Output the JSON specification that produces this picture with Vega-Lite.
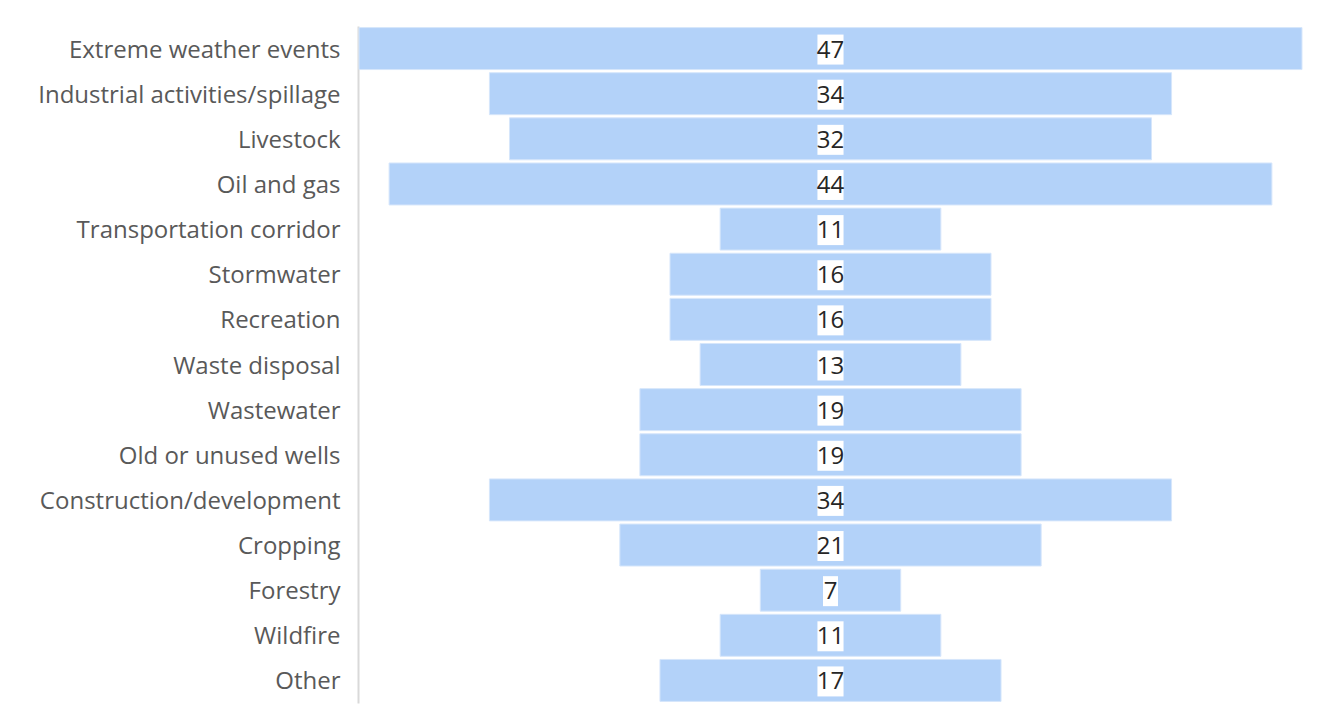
{
  "$schema": "https://vega.github.io/schema/vega-lite/v6.json",
  "autosize": "none",
  "width": 947,
  "height": 677,
  "padding": {"left": 358, "top": 26, "right": 13, "bottom": 9},
  "background": "white",
  "config": {
    "view": {"stroke": null},
    "font": "Open Sans"
  },
  "data": {
    "values": [
      {"category": "Extreme weather events", "value": 47},
      {"category": "Industrial activities/spillage", "value": 34},
      {"category": "Livestock", "value": 32},
      {"category": "Oil and gas", "value": 44},
      {"category": "Transportation corridor", "value": 11},
      {"category": "Stormwater", "value": 16},
      {"category": "Recreation", "value": 16},
      {"category": "Waste disposal", "value": 13},
      {"category": "Wastewater", "value": 19},
      {"category": "Old or unused wells", "value": 19},
      {"category": "Construction/development", "value": 34},
      {"category": "Cropping", "value": 21},
      {"category": "Forestry", "value": 7},
      {"category": "Wildfire", "value": 11},
      {"category": "Other", "value": 17}
    ]
  },
  "encoding": {
    "y": {
      "field": "category",
      "type": "nominal",
      "sort": null,
      "scale": {"paddingInner": 0.07, "paddingOuter": 0.035},
      "axis": {
        "title": null,
        "ticks": false,
        "labelFontSize": 24,
        "labelColor": "#595959",
        "labelPadding": 18,
        "labelOffset": 2,
        "labelLimit": 400,
        "labelFont": "Open Sans",
        "domainColor": "#d9d9d9",
        "domainWidth": 2
      }
    }
  },
  "layer": [
    {
      "mark": {"type": "bar", "color": "#b3d2f9", "stroke": "#d6e6fb", "strokeWidth": 1},
      "encoding": {
        "x": {
          "field": "value",
          "type": "quantitative",
          "stack": "center",
          "scale": {"domain": [-0.05, 47.15], "nice": false, "zero": false},
          "axis": null
        }
      }
    },
    {
      "mark": {"type": "point", "filled": true, "color": "white", "opacity": 1, "size": 900, "strokeWidth": 0, "yOffset": 1},
      "encoding": {
        "x": {"datum": 23.5, "type": "quantitative"},
        "shape": {
          "condition": {"test": "datum.value < 10", "value": "M-0.5,-1H0.5V1H-0.5Z"},
          "value": "M-0.87,-1H0.87V1H-0.87Z"
        }
      }
    },
    {
      "mark": {"type": "text", "fontSize": 24, "color": "#262626", "align": "center", "baseline": "middle", "dy": 2},
      "encoding": {
        "x": {"datum": 23.5, "type": "quantitative"},
        "text": {"field": "value", "type": "quantitative"}
      }
    }
  ]
}
